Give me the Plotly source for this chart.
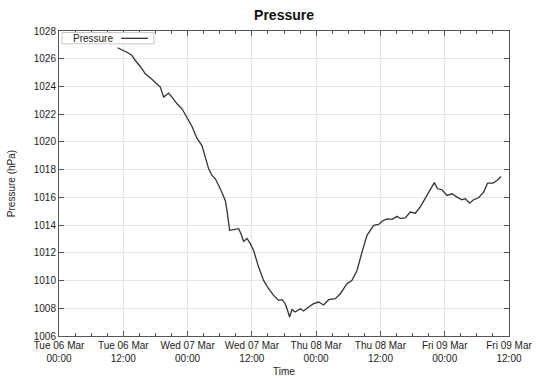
import pandas as pd
import plotly.graph_objects as go

# Hours since Tue 06 Mar 2012 00:00
hours = [10.94, 12.06, 12.69, 13.63, 14.24, 15.18, 16.11, 17.04, 17.98, 18.91,
         19.53, 20.46, 21.09, 22.03, 22.96, 23.89, 24.83, 25.76, 26.69, 27.31,
         27.93, 28.56, 29.18, 30.11, 31.04, 31.36, 31.85, 32.59, 33.53, 33.97,
         34.46, 35.09, 35.71, 36.33, 37.26, 38.19, 39.13, 40.06, 40.99, 41.63,
         42.24, 42.56, 43.05, 43.49, 44.11, 45.04, 45.66, 46.59, 47.53, 48.46,
         49.39, 50.33, 51.58, 52.51, 53.76, 54.69, 55.63, 56.56, 57.49, 58.73,
         59.66, 60.35, 61.28, 62.16, 63.09, 63.71, 64.64, 65.58, 66.51, 67.44,
         68.38, 69.31, 70.06, 70.67, 71.49, 72.43, 73.36, 74.30, 75.23, 75.85,
         76.65, 77.39, 78.33, 79.26, 80.01, 81.02, 81.76, 82.51]
pressure = [1026.79, 1026.59, 1026.47, 1026.23, 1025.87, 1025.44, 1024.91, 1024.63, 1024.31, 1023.95,
            1023.23, 1023.52, 1023.23, 1022.75, 1022.39, 1021.76, 1021.11, 1020.25, 1019.74, 1018.90,
            1018.06, 1017.58, 1017.34, 1016.62, 1015.78, 1015.06, 1013.62, 1013.67, 1013.74, 1013.38,
            1012.82, 1013.04, 1012.66, 1012.17, 1010.97, 1010.01, 1009.41, 1008.93, 1008.57, 1008.62,
            1008.33, 1007.97, 1007.37, 1007.90, 1007.73, 1007.97, 1007.80, 1008.09, 1008.33, 1008.45,
            1008.24, 1008.62, 1008.69, 1009.05, 1009.77, 1010.01, 1010.73, 1012.05, 1013.26, 1013.98,
            1014.05, 1014.30, 1014.45, 1014.41, 1014.63, 1014.48, 1014.52, 1014.94, 1014.86, 1015.31,
            1015.97, 1016.62, 1017.06, 1016.62, 1016.55, 1016.14, 1016.26, 1016.02, 1015.83, 1015.90,
            1015.58, 1015.83, 1015.97, 1016.38, 1017.03, 1017.03, 1017.22, 1017.51]

tick_times = ["2012-03-06 00:00", "2012-03-06 12:00", "2012-03-07 00:00", "2012-03-07 12:00",
              "2012-03-08 00:00", "2012-03-08 12:00", "2012-03-09 00:00", "2012-03-09 12:00"]
tick_labels = ["Tue 06 Mar<br>00:00", "Tue 06 Mar<br>12:00", "Wed 07 Mar<br>00:00", "Wed 07 Mar<br>12:00",
               "Thu 08 Mar<br>00:00", "Thu 08 Mar<br>12:00", "Fri 09 Mar<br>00:00", "Fri 09 Mar<br>12:00"]

base = pd.Timestamp("2012-03-06 00:00")
times = [base + pd.Timedelta(hours=h) for h in hours]

FONT = "Liberation Sans, Arial, sans-serif"
AX = "#555555"
GRID = "#e4e4e4"

fig = go.Figure()
fig.add_trace(go.Scatter(x=times, y=pressure, mode="lines", name="Pressure",
                         line=dict(color="#333333", width=1.3), showlegend=False))

fig.update_layout(
    width=540, height=378,
    margin=dict(l=59, r=31, t=31, b=42, autoexpand=False),
    paper_bgcolor="white", plot_bgcolor="white",
    font=dict(family=FONT, size=10, color="#222222"),
    title=dict(text="<b>Pressure</b>", x=0.526, xanchor="center", y=0.96, yanchor="middle",
               font=dict(size=14, color="#111111"), automargin=False),
)
fig.update_xaxes(
    automargin=False,
    range=[tick_times[0], tick_times[-1]],
    tickmode="array", tickvals=tick_times, ticktext=tick_labels,
    ticks="inside", ticklen=5, tickcolor=AX,
    showline=True, linecolor=AX, linewidth=1, mirror="ticks",
    showgrid=True, gridcolor=GRID, gridwidth=1,
    zeroline=False,
    minor=dict(dtick=3 * 3600 * 1000, ticks="inside", ticklen=3, tickcolor=AX, showgrid=False),
    title=dict(text="Time", standoff=4, font=dict(size=10)),
    tickfont=dict(size=10),
)
fig.update_yaxes(
    automargin=False,
    range=[1006, 1028], dtick=2, tick0=1006,
    ticks="inside", ticklen=5, tickcolor=AX,
    showline=True, linecolor=AX, linewidth=1, mirror="ticks",
    showgrid=True, gridcolor=GRID, gridwidth=1,
    zeroline=False,
    title=dict(text="Pressure (hPa)", standoff=16, font=dict(size=10)),
    tickfont=dict(size=10),
)

# gnuplot-style key: text then line sample, in a light box
fig.add_shape(type="rect", xref="paper", yref="paper", x0=0.0067, x1=0.211, y0=0.958, y1=0.995,
              line=dict(color="#c8c8c8", width=1), fillcolor="white", layer="above")
fig.add_shape(type="line", xref="paper", yref="paper", x0=0.138, x1=0.198, y0=0.976, y1=0.976,
              line=dict(color="#333333", width=1.3), layer="above")
fig.add_annotation(text="Pressure", xref="paper", yref="paper", x=0.026, y=0.977,
                   xanchor="left", yanchor="middle", showarrow=False, font=dict(size=10, color="#222222"))

fig.write_html("out.html", config={"displayModeBar": False},
               post_script="document.body.style.margin='0';document.body.style.overflow='hidden';")
